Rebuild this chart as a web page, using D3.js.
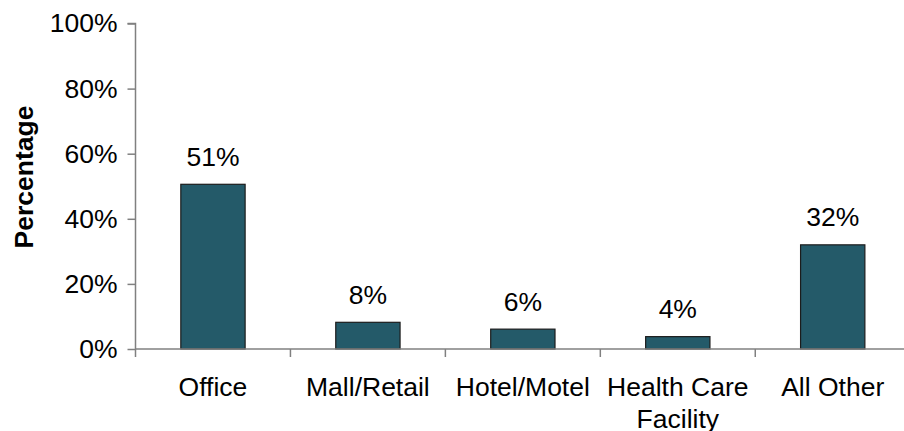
<!DOCTYPE html>
<html>
<head>
<meta charset="utf-8">
<script src="https://cdn.jsdelivr.net/npm/d3@7"></script>
<style>
  html, body { margin: 0; padding: 0; background: #fff; }
  svg { display: block; font-family: "Liberation Sans", Arial, sans-serif; }
</style>
</head>
<body>
<svg id="chart" width="904" height="431"></svg>
<script>
const categories = [["Office"], ["Mall/Retail"], ["Hotel/Motel"], ["Health Care", "Facility"], ["All Other"]];
const values = [50.6, 8.2, 6.1, 3.8, 32.0];
const valueLabels = ["51%", "8%", "6%", "4%", "32%"];
const yTicks = [0, 20, 40, 60, 80, 100];
const yTitle = "Percentage";

(function () {
const svg = d3.select("#chart");
const mLeft = 135.5, mRight = 910.2, mTop = 23.5, mBottom = 349;
const axisColor = "#808080";
const fontSize = 26.5;

const x = d3.scaleBand()
  .domain(d3.range(categories.length))
  .range([mLeft, mRight])
  .paddingInner(0.585)
  .paddingOuter(0.2925);

const y = d3.scaleLinear().domain([0, 100]).range([mBottom, mTop]);

// Y axis
const yAxis = svg.append("g")
  .attr("transform", `translate(${mLeft},0)`)
  .call(d3.axisLeft(y).tickValues(yTicks).tickSize(8).tickPadding(10).tickFormat(d => d + "%"));
yAxis.select(".domain").attr("stroke", axisColor).attr("stroke-width", 1.5)
  .attr("d", `M-8,${y(100)}H0V${mBottom + 8}`);
yAxis.selectAll(".tick line").attr("stroke", axisColor).attr("stroke-width", 1.5);
yAxis.selectAll(".tick text").attr("fill", "#000").attr("font-size", fontSize)
  .attr("font-family", "Liberation Sans, Arial, sans-serif");

// Bars
svg.append("g").selectAll("rect")
  .data(values)
  .join("rect")
  .attr("x", (d, i) => x(i))
  .attr("y", d => y(d))
  .attr("width", x.bandwidth())
  .attr("height", d => y(0) - y(d))
  .attr("fill", "#245A69")
  .attr("stroke", "#1c1c1c")
  .attr("stroke-width", 1.2);

// X axis line and ticks at band boundaries
const step = x.step();
const boundaries = d3.range(categories.length + 1).map(i => mLeft + i * step);
svg.append("line")
  .attr("x1", mLeft).attr("x2", mRight)
  .attr("y1", mBottom).attr("y2", mBottom)
  .attr("stroke", axisColor).attr("stroke-width", 1.5);
svg.append("g").selectAll("line")
  .data(boundaries.slice(1))
  .join("line")
  .attr("x1", d => d).attr("x2", d => d)
  .attr("y1", mBottom).attr("y2", mBottom + 8)
  .attr("stroke", axisColor).attr("stroke-width", 1.5);

// Category labels
const catG = svg.append("g").selectAll("text")
  .data(categories)
  .join("text")
  .attr("x", (d, i) => x(i) + x.bandwidth() / 2)
  .attr("y", mBottom + 47)
  .attr("text-anchor", "middle")
  .attr("font-size", fontSize)
  .attr("fill", "#000");
catG.each(function(d, i) {
  const t = d3.select(this);
  d.forEach((line, j) => {
    t.append("tspan")
      .attr("x", x(i) + x.bandwidth() / 2)
      .attr("dy", j === 0 ? 0 : 32)
      .text(line);
  });
});

// Value labels
svg.append("g").selectAll("text")
  .data(values)
  .join("text")
  .attr("x", (d, i) => x(i) + x.bandwidth() / 2)
  .attr("y", d => y(d) - 18.5)
  .attr("text-anchor", "middle")
  .attr("font-size", fontSize)
  .attr("fill", "#000")
  .text((d, i) => valueLabels[i]);

// Y title
svg.append("text")
  .attr("transform", `translate(33,177) rotate(-90)`)
  .attr("text-anchor", "middle")
  .attr("font-size", fontSize)
  .attr("font-weight", "bold")
  .attr("fill", "#000")
  .text(yTitle);
})();
</script>
</body>
</html>
